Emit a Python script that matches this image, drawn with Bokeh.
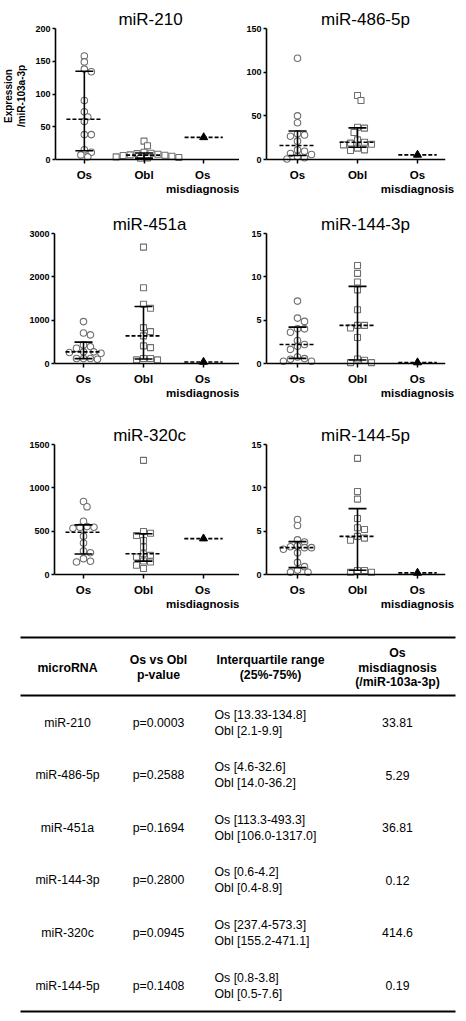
import numpy as np
from bokeh.plotting import figure
from bokeh.layouts import column, row
from bokeh.models import Range1d, FixedTicker, Span
from bokeh.core.properties import value
from bokeh.embed import file_html
from bokeh.resources import INLINE

# ---------------- data ----------------
mirnas = ["miR-210", "miR-486-5p", "miR-451a", "miR-144-3p", "miR-320c", "miR-144-5p"]
group_labels = ["Os", "Obl", "Os\nmisdiagnosis"]

os_mir210 = [158, 149, 138, 134, 90, 73, 65, 58, 38, 38, 15, 11, 7, 4]
obl_mir210 = [28, 21, 11, 9.5, 9, 8, 7, 6.5, 6, 5, 4, 3, 2.5, 2]
os_mir486 = [116, 50, 42, 29.4, 28, 26.7, 21, 11, 9.5, 6.9, 5.7, 3.5, 2, 0.5]
obl_mir486 = [73.3, 67.6, 37, 35.9, 31, 22.5, 19.8, 18.7, 17.5, 16.8, 13, 11, 10.3]
os_mir451 = [967, 706, 660, 430, 391, 353, 269, 269, 253, 238, 115, 115, 115, 100]
obl_mir451 = [2686, 1750, 1366, 1274, 829, 737, 637, 407, 368, 115, 115, 84, 84]
os_mir1443 = [7.2, 5.24, 4.86, 4.0, 4.0, 3.6, 2.66, 2.2, 2.0, 1.63, 0.76, 0.57, 0.5, 0.27, 0.27]
obl_mir1443 = [11.3, 10.4, 9.4, 8.5, 6.2, 4.4, 4.4, 4.1, 3.0, 0.53, 0.38, 0.1, 0.1]
os_mir320 = [843, 782, 615, 553, 546, 546, 534, 443, 363, 271, 252, 183, 153, 145]
obl_mir320 = [1317, 496, 477, 450, 393, 317, 240, 221, 202, 156, 145, 107, 69]
os_mir1445 = [6.34, 5.66, 4.0, 3.76, 3.3, 3.2, 3.1, 3.1, 2.92, 2.5, 1.4, 0.91, 0.53, 0.27, 0.27]
obl_mir1445 = [13.4, 9.57, 8.7, 6.46, 5.4, 5.2, 4.4, 4.2, 3.95, 0.46, 0.46, 0.27, 0.27]

os_values = [os_mir210, os_mir486, os_mir451, os_mir1443, os_mir320, os_mir1445]
obl_values = [obl_mir210, obl_mir486, obl_mir451, obl_mir1443, obl_mir320, obl_mir1445]

y_max = [200, 150, 3000, 15, 1500, 15]
y_ticks = [[0, 50, 100, 150, 200], [0, 50, 100, 150], [0, 1000, 2000, 3000],
           [0, 5, 10, 15], [0, 500, 1000, 1500], [0, 5, 10, 15]]

p_values = ["p=0.0003", "p=0.2588", "p=0.1694", "p=0.2800", "p=0.0945", "p=0.1408"]
iqr_os = ["13.33-134.8", "4.6-32.6", "113.3-493.3", "0.6-4.2", "237.4-573.3", "0.8-3.8"]
iqr_obl = ["2.1-9.9", "14.0-36.2", "106.0-1317.0", "0.4-8.9", "155.2-471.1", "0.5-7.6"]
os_misdiagnosis = ["33.81", "5.29", "36.81", "0.12", "414.6", "0.19"]

table_header = [["microRNA"], ["Os vs Obl", "p-value"],
                ["Interquartile range", "(25%-75%)"],
                ["Os", "misdiagnosis", "(/miR-103a-3p)"]]

# ---------------- layout / style ----------------
FONT = "Liberation Sans"
X_PX = 60.0            # pixels per category step
ROW_H = [212, 211, 192]
TOPS = [28, 20, 20]
BOT = [49, 56, 37]
FRAME_H = 135
ZERO_PAD = 4
COLS = [dict(width=239, bl=54, br=0, first_px=29, title_c=95),
        dict(width=227, bl=27, br=21, first_px=31, title_c=99)]
MARK_COLOR = "#6f6f6f"
SWARM_D = 7.0
SWARM_MIN = 0.8

AW = {ch: 0.556 for ch in "0123456789ap"}
AW.update({"m": 0.833, "i": 0.222, "R": 0.722, "-": 0.333, "c": 0.5})


def text_w(s, size):
    return sum(AW.get(ch, 0.556) for ch in s) * size


def swarm(vals, ypx, d):
    vals = np.asarray(vals, float)
    order = np.argsort(-vals, kind="stable")
    placed = []
    offs = np.zeros(len(vals))
    cands = [0.0]
    for j in range(1, 30):
        cands += [j * d / 2, -j * d / 2]
    lim = (SWARM_MIN * d) ** 2
    for i in order:
        y = vals[i] * ypx
        for c in cands:
            if all((c - px) ** 2 + (y - py) ** 2 >= lim for px, py in placed):
                break
        placed.append((c, y))
        offs[i] = c
    return offs


def parse_range(s):
    a, b = s.split("-")
    return float(a), float(b)


def make_panel(k):
    r, c = divmod(k, 2)
    col = COLS[c]
    frame_w = col["width"] - col["bl"] - col["br"]
    x0 = 1 - col["first_px"] / X_PX
    ymax = y_max[k]
    plot_px = FRAME_H - ZERO_PAD
    ypad = ymax * ZERO_PAD / plot_px
    p = figure(width=col["width"], height=ROW_H[r],
               x_range=Range1d(x0, x0 + frame_w / X_PX),
               y_range=Range1d(-ypad, ymax),
               toolbar_location=None, output_backend="svg",
               min_border_left=col["bl"], min_border_right=col["br"],
               min_border_top=TOPS[r], min_border_bottom=BOT[r],
               title=mirnas[k])
    p.grid.grid_line_color = None
    p.outline_line_color = None

    # x axis line at value 0
    p.add_layout(Span(location=0, dimension="width", line_color="black", line_width=1.6))

    ypx = plot_px / ymax
    cap = 0.15
    groups = [(os_values[k], "circle", 6.5, iqr_os[k]), (obl_values[k], "square", 6.0, iqr_obl[k])]
    for gi, (vals, marker, size, iqr) in enumerate(groups):
        xc = gi + 1
        offs = swarm(vals, ypx, SWARM_D) / X_PX
        p.scatter(x=list(xc + offs), y=vals, marker=marker, size=size,
                  fill_color="white", line_color=MARK_COLOR, line_width=1.1)
    for gi, (vals, marker, size, iqr) in enumerate(groups):
        xc = gi + 1
        q1, q3 = parse_range(iqr)
        med = float(np.median(vals))
        p.segment(x0=[xc, xc - cap, xc - cap], y0=[q1, q1, q3],
                  x1=[xc, xc + cap, xc + cap], y1=[q3, q1, q3],
                  line_color="black", line_width=1.6)
        p.segment(x0=[xc - 0.3], y0=[med], x1=[xc + 0.3], y1=[med],
                  line_color="black", line_width=1.6, line_dash="4 2")
    md = float(os_misdiagnosis[k])
    p.segment(x0=[3 - 0.32], y0=[md], x1=[3 + 0.32], y1=[md],
              line_color="black", line_width=1.6, line_dash="4 2")
    p.scatter(x=[3], y=[md], marker="triangle", size=8,
              fill_color="black", line_color="black")

    # axes
    p.xaxis.ticker = FixedTicker(ticks=[1, 2, 3])
    p.xaxis.major_label_overrides = {1: group_labels[0], 2: group_labels[1], 3: group_labels[2]}
    p.xaxis.axis_line_color = None
    p.xaxis.major_tick_out = 0
    p.xaxis.major_tick_in = ZERO_PAD
    p.xaxis.major_label_standoff = 5
    p.xaxis.major_label_text_font_size = "11.5px"
    p.yaxis.ticker = FixedTicker(ticks=y_ticks[k])
    p.yaxis.bounds = (0, ymax)
    p.yaxis.axis_line_width = 1.6
    p.yaxis.axis_line_color = "black"
    p.yaxis.major_tick_out = 3
    p.yaxis.major_tick_in = 0
    p.yaxis.major_label_standoff = 2
    p.yaxis.major_label_text_font_size = "9px"
    for ax in p.axis:
        ax.major_tick_line_width = 1.5
        ax.major_tick_line_color = "black"
        ax.minor_tick_line_color = None
        ax.major_label_text_font = FONT
        ax.major_label_text_font_style = "bold"
        ax.major_label_text_color = "black"
    if k == 0:
        p.yaxis.axis_label = "Expression\n/miR-103a-3p"
        p.yaxis.axis_label_text_font = FONT
        p.yaxis.axis_label_text_font_size = "10px"
        p.yaxis.axis_label_text_font_style = "bold"
        p.yaxis.axis_label_text_color = "black"
        p.yaxis.axis_label_standoff = 5

    p.title.text_font = FONT
    p.title.text_font_size = "17px"
    p.title.text_font_style = "normal"
    p.title.text_color = "black"
    p.title.align = "left"
    p.title.standoff = 0
    p.title.offset = col["title_c"] - text_w(mirnas[k], 17) / 2
    return p


panels = [make_panel(k) for k in range(6)]

# ---------------- table ----------------
T_TOP, T_BOT = 615, 1021
t = figure(width=466, height=T_BOT - T_TOP, x_range=Range1d(0, 466),
           y_range=Range1d(T_BOT, T_TOP), toolbar_location=None,
           output_backend="svg", x_axis_location=None, y_axis_location=None,
           min_border=0)
t.grid.grid_line_color = None
t.outline_line_color = None

LINE_X0, LINE_X1 = 20, 455
LINE_Y = [637, 695, 1011]
t.segment(x0=[LINE_X0] * 3, x1=[LINE_X1] * 3, y0=LINE_Y, y1=LINE_Y,
          line_color="black", line_width=2)

COL_X = [67, 158, 270, 397]
HEAD_Y = 667
HEAD_LH = 14.5
hx, hy, ht = [], [], []
for ci, lines in enumerate(table_header):
    n = len(lines)
    for li, s in enumerate(lines):
        hx.append(COL_X[ci])
        hy.append(HEAD_Y + (li - (n - 1) / 2) * HEAD_LH)
        ht.append(s)
t.text(x=hx, y=hy, text=ht, text_align="center", text_baseline="middle",
       text_font=value(FONT), text_font_size=value("12.3px"),
       text_font_style="bold", text_color="black")

ROW0_Y, ROW_STEP = 722, 52.6
IQR_X = 214
rows_y = [ROW0_Y + i * ROW_STEP for i in range(len(mirnas))]
t.text(x=[COL_X[0]] * 6 + [COL_X[1]] * 6 + [COL_X[3]] * 6,
       y=rows_y * 3,
       text=mirnas + p_values + os_misdiagnosis,
       text_align="center", text_baseline="middle",
       text_font=value(FONT), text_font_size=value("12.3px"), text_color="black")
t.text(x=[IQR_X] * 12,
       y=[y - 8 for y in rows_y] + [y + 8 for y in rows_y],
       text=["Os [%s]" % s for s in iqr_os] + ["Obl [%s]" % s for s in iqr_obl],
       text_align="left", text_baseline="middle",
       text_font=value(FONT), text_font_size=value("12.3px"), text_color="black")

layout = column(row(panels[0], panels[1]), row(panels[2], panels[3]),
                row(panels[4], panels[5]), t)

open("out.html", "w").write(file_html(layout, INLINE))
